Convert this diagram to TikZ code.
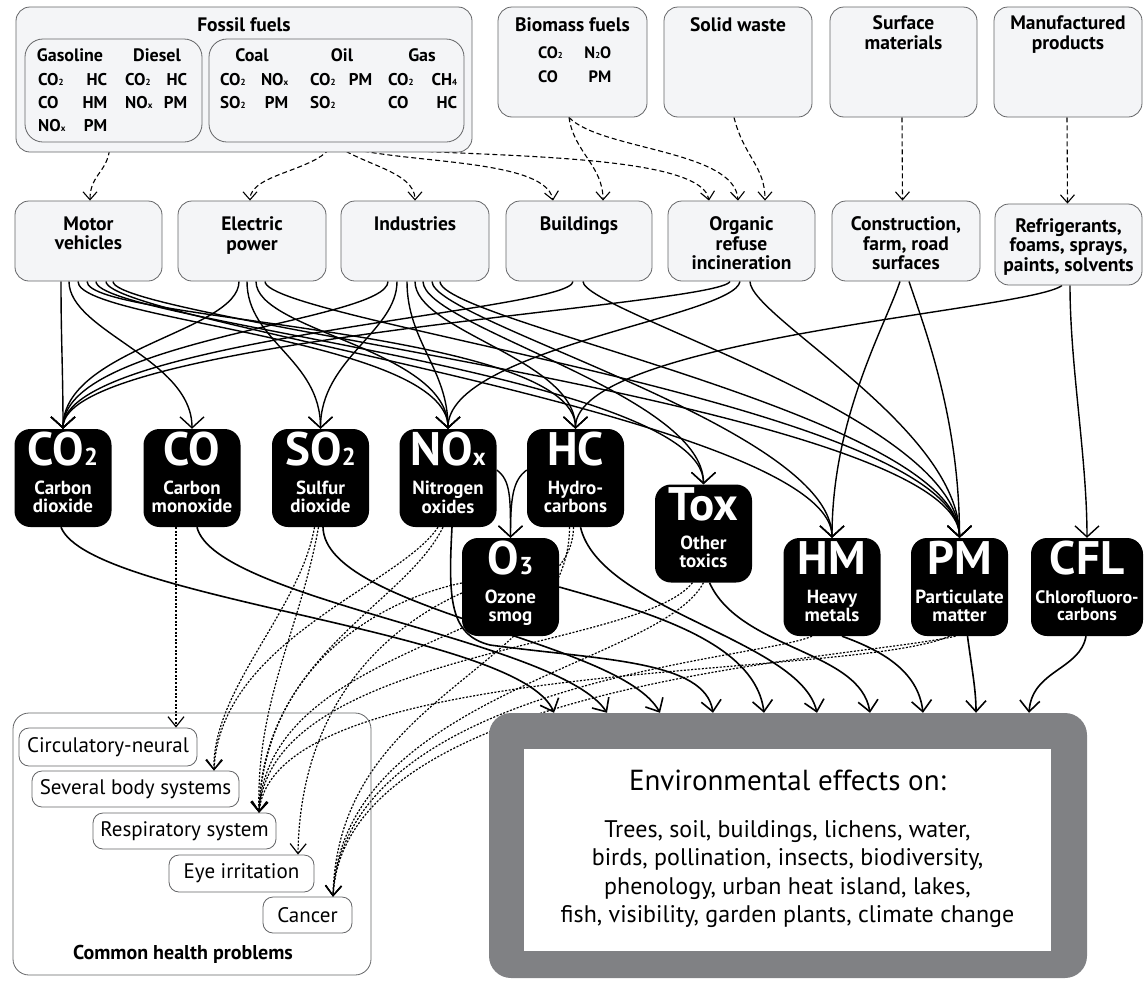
\documentclass[tikz,border=0pt]{standalone}
\usepackage{fontspec}
\usepackage{graphicx}
\setmainfont{PT Sans}
\usetikzlibrary{arrows.meta}
\pgfdeclarelayer{bg}
\pgfsetlayers{bg,main}
\definecolor{boxfill}{HTML}{F4F5F7}
\definecolor{envgray}{HTML}{808184}
\definecolor{edgegray}{HTML}{646567}
\newcommand\lsub[1]{\raisebox{-0.02em}{\scalebox{0.52}{#1}}}
\newcommand\fsz[2]{\fontsize{#1}{#2}\selectfont}
\newcommand\prow[3]{\hbox to #1{#2\hfill #3}}
\tikzset{
 srcbox/.style={draw=edgegray, fill=boxfill, rounded corners=14pt, line width=0.8pt, inner sep=0pt},
 inbox/.style={draw=edgegray, rounded corners=18pt, line width=0.8pt, inner sep=0pt},
 lbl/.style={font=\fsz{19.5}{19.5}\bfseries, align=center, inner sep=0pt},
 fuel/.style={font=\fsz{18}{20}\bfseries, inner sep=0pt, anchor=base},
 gaslist/.style={font=\fsz{17}{23}\bfseries, align=left, inner sep=0pt, anchor=north west},
 polbox/.style={fill=black, rounded corners=16pt, inner sep=0pt, minimum width=97pt, minimum height=98pt},
 bigl/.style={text=white, font=\fsz{47}{47}\bfseries, inner sep=0pt, anchor=base},
 subl/.style={text=white, font=\fsz{19}{17.5}\bfseries, align=center, inner sep=0pt, anchor=north},
 hlbox/.style={draw=edgegray, fill=white, rounded corners=10pt, line width=0.8pt, inner sep=0pt, font=\fsz{21}{21}},
 feedarrow/.style={line width=1.1pt, dash pattern=on 5pt off 3pt, -{Straight Barb[length=8pt,width=14pt]}},
 polarrow/.style={line width=1.4pt, -{Straight Barb[length=11pt,width=24pt]}},
 envarrow/.style={line width=1.6pt, -{Straight Barb[length=11pt,width=20pt]}},
 healtharrow/.style={line width=1.2pt, dash pattern=on 2pt off 1.6pt, -{Straight Barb[length=10pt,width=16pt]}},
}
\begin{document}
\begin{tikzpicture}[x=1pt,y=-1pt]
\useasboundingbox (0,0) rectangle (1144,983);

% ---------- top sources ----------
\node[srcbox, minimum width=456pt, minimum height=145pt] (ff) at (244,79.5) {};
\node[inbox, minimum width=177pt, minimum height=103pt] (ffl) at (113.5,90.5) {};
\node[inbox, minimum width=255pt, minimum height=103pt] (ffr) at (336.5,90.5) {};
\node[lbl, anchor=base] (fftitle) at (244,31) {Fossil fuels};
\node[fuel] (gasoline) at (70,61.5) {Gasoline};
\node[fuel] (diesel) at (157,61.5) {Diesel};
\node[fuel] (coal) at (252,61.5) {Coal};
\node[fuel] (oil) at (342,61.5) {Oil};
\node[fuel] (gas) at (422,61.5) {Gas};
\node[gaslist] (gasolinel) at (38,73) {\prow{69pt}{CO\lsub2}{HC}\\\prow{69pt}{CO}{HM}\\\prow{69pt}{NO\lsub{x}}{PM}};
\node[gaslist] (diesell) at (125,73) {\prow{62pt}{CO\lsub2}{HC}\\\prow{62pt}{NO\lsub{x}}{PM}};
\node[gaslist] (coall) at (220,73) {\prow{68pt}{CO\lsub2}{NO\lsub{x}}\\\prow{68pt}{SO\lsub2}{PM}};
\node[gaslist] (oill) at (310,73) {\prow{62pt}{CO\lsub2}{PM}\\\prow{62pt}{SO\lsub2}{}};
\node[gaslist] (gasl) at (388,73) {\prow{69pt}{CO\lsub2}{CH\lsub4}\\\prow{69pt}{CO}{HC}};

\node[srcbox, minimum width=149pt, minimum height=110pt] (bio) at (572.5,62) {};
\node[lbl, anchor=base] (biot) at (572.5,31) {Biomass fuels};
\node[gaslist, font=\fsz{16.5}{24}\bfseries] (biol) at (538,46.5) {\prow{73pt}{CO\lsub2}{N\lsub2O}\\\prow{73pt}{CO}{PM}};
\node[srcbox, minimum width=148pt, minimum height=110pt] (sol) at (738,62) {};
\node[lbl, anchor=base] (solt) at (738,31) {Solid waste};
\node[srcbox, minimum width=147pt, minimum height=110pt] (sur) at (903.5,62) {};
\node[lbl, anchor=north] (surt) at (903.5,15.5) {Surface\\materials};
\node[srcbox, minimum width=148pt, minimum height=110pt] (man) at (1068,62) {};
\node[lbl, anchor=north] (mant) at (1068,15.5) {Manufactured\\products};

% ---------- middle row ----------
\node[srcbox, minimum width=147pt, minimum height=80pt] (mv) at (88.5,241) {};
\node[lbl, anchor=north] (mvt) at (88.5,216.5) {Motor\\vehicles};
\node[srcbox, minimum width=148pt, minimum height=80pt] (ep) at (252,241) {};
\node[lbl, anchor=north] (ept) at (252,216.5) {Electric\\power};
\node[srcbox, minimum width=148pt, minimum height=80pt] (ind) at (415,241) {};
\node[lbl, anchor=north] (indt) at (415,216.5) {Industries};
\node[srcbox, minimum width=146pt, minimum height=80pt] (bld) at (579,241) {};
\node[lbl, anchor=north] (bldt) at (579,216.5) {Buildings};
\node[srcbox, minimum width=147pt, minimum height=80pt] (org) at (741.5,241) {};
\node[lbl, anchor=north] (orgt) at (741.5,216.5) {Organic\\refuse\\incineration};
\node[srcbox, minimum width=148pt, minimum height=80pt] (con) at (906,241) {};
\node[lbl, anchor=north] (cont) at (906,216.5) {Construction,\\farm, road\\surfaces};
\node[srcbox, minimum width=147pt, minimum height=81pt] (ref) at (1068.5,244.5) {};
\node[lbl, anchor=north] (reft) at (1068.5,218) {Refrigerants,\\foams, sprays,\\paints, solvents};

% ---------- pollutants ----------
\node[polbox] (co2) at (63,478) {};
\node[bigl] (co2t) at (63,465) {CO\lsub2};
\node[subl] (co2s) at (63,481) {Carbon\\dioxide};
\node[polbox] (co) at (192,478) {};
\node[bigl] (cot) at (192,465) {CO};
\node[subl] (cos) at (192,481) {Carbon\\monoxide};
\node[polbox] (so2) at (320.5,478) {};
\node[bigl] (so2t) at (320.5,465) {SO\lsub2};
\node[subl] (so2s) at (320.5,481) {Sulfur\\dioxide};
\node[polbox] (nox) at (448,478) {};
\node[bigl] (noxt) at (448,465) {NO\lsub{x}};
\node[subl] (noxs) at (448,481) {Nitrogen\\oxides};
\node[polbox] (hc) at (575.5,478) {};
\node[bigl] (hct) at (575.5,465) {HC};
\node[subl] (hcs) at (575.5,481) {Hydro-\\carbons};
\node[polbox] (o3) at (510.5,587) {};
\node[bigl] (o3t) at (510.5,574) {O\lsub3};
\node[subl] (o3s) at (510.5,590) {Ozone\\smog};
\node[polbox] (tox) at (703.5,533.5) {};
\node[bigl] (toxt) at (703.5,520) {Tox};
\node[subl] (toxs) at (703.5,536) {Other\\toxics};
\node[polbox] (hm) at (832,587) {};
\node[bigl] (hmt) at (832,574) {HM};
\node[subl] (hms) at (832,590) {Heavy\\metals};
\node[polbox] (pm) at (959.5,587) {};
\node[bigl] (pmt) at (959.5,574) {PM};
\node[subl] (pms) at (959.5,590) {Particulate\\matter};
\node[polbox, minimum width=112pt] (cfl) at (1087,587) {};
\node[bigl] (cflt) at (1087,574) {CFL};
\node[subl, font=\fsz{18}{17.5}\bfseries] (cfls) at (1087,590) {Chlorofluoro-\\carbons};

% ---------- environment ----------
\node[fill=envgray, rounded corners=22pt, minimum width=598pt, minimum height=265pt, inner sep=0pt] (env) at (788,845.5) {};
\node[fill=white, minimum width=527pt, minimum height=202pt, inner sep=0pt] (envin) at (787.5,850) {};
\node[font=\fsz{29}{29}, anchor=base, inner sep=0pt] (envhead) at (787.5,790) {Environmental effects on:};
\node[font=\fsz{24}{28.5}, align=center, anchor=north, inner sep=0pt] (envbody) at (787.5,820) {Trees, soil, buildings, lichens, water,\\birds, pollination, insects, biodiversity,\\phenology, urban heat island, lakes,\\fish, visibility, garden plants, climate change};

% ---------- health ----------
\node[draw=edgegray, rounded corners=16pt, minimum width=358pt, minimum height=262pt, line width=0.8pt, inner sep=0pt] (hp) at (192,844) {};
\node[hlbox, minimum width=178pt, minimum height=38pt] (circ) at (108,747) {Circulatory-neural};
\node[hlbox, minimum width=207pt, minimum height=36pt] (sev) at (135.5,789) {Several body systems};
\node[hlbox, minimum width=183pt, minimum height=36pt] (res) at (184.5,831) {Respiratory system};
\node[hlbox, minimum width=145pt, minimum height=37pt] (eye) at (241.5,873.5) {Eye irritation};
\node[hlbox, minimum width=89pt, minimum height=36pt] (can) at (307.5,915) {Cancer};
\node[font=\fsz{20}{20}\bfseries, inner sep=0pt] (hpt) at (183,954) {Common health problems};

\begin{pgfonlayer}{bg}
% ---------- dashed feeds ----------
\draw[feedarrow] ([xshift=-3.5]ffl.south) .. controls +(0,30) and +(0,-28) .. ([xshift=1.5]mv.north);
\draw[feedarrow] ([xshift=-3.5]ffr.south) .. controls +(-10,28) and +(0,-28) .. ([xshift=-2]ep.north);
\draw[feedarrow] ([xshift=-3.5]ffr.south) .. controls +(25,22) and +(0,-30) .. (ind.north);
\draw[feedarrow] ([xshift=-3.5]ffr.south) .. controls (380,165) and (545,155) .. ([xshift=-26]bld.north);
\draw[feedarrow] ([xshift=-3.5]ffr.south) .. controls (400,160) and (700,145) .. ([xshift=-32.5]org.north);
\draw[feedarrow] ([xshift=-3.5]bio.south) .. controls +(5,35) and +(0,-35) .. ([xshift=24]bld.north);
\draw[feedarrow] ([xshift=-3.5]bio.south) .. controls (600,150) and (735,150) .. ([xshift=-3.5]org.north);
\draw[feedarrow] ([xshift=-4]sol.south) .. controls +(10,40) and +(0,-35) .. ([xshift=23.5]org.north);
\draw[feedarrow] ([xshift=-1.5]sur.south) -- ([xshift=-3.5]con.north);
\draw[feedarrow] ([xshift=-1]man.south) -- ([xshift=-1]ref.north);

% ---------- sources to pollutants ----------
\draw[polarrow] ([xshift=-27.5]mv.south) .. controls +(0,60) and +(0,-60) .. (co2.north);
\draw[polarrow] ([xshift=-19.5]mv.south) .. controls +(0,50) and +(0,-70) .. (co.north);
\draw[polarrow] ([xshift=-10.5]mv.south) .. controls +(0,40) and +(0,-90) .. (nox.north);
\draw[polarrow] ([xshift=-1.5]mv.south) .. controls +(0,40) and +(0,-100) .. (hc.north);
\draw[polarrow] ([xshift=7.5]mv.south) .. controls +(0,40) and +(0,-110) .. (tox.north);
\draw[polarrow] ([xshift=17.5]mv.south) .. controls +(0,40) and +(0,-120) .. (hm.north);
\draw[polarrow] ([xshift=24.5]mv.south) .. controls +(0,40) and +(0,-130) .. (pm.north);
\draw[polarrow] ([xshift=-13]ep.south) .. controls +(0,50) and +(0,-80) .. (co2.north);
\draw[polarrow] ([xshift=-5]ep.south) .. controls +(0,60) and +(0,-70) .. (so2.north);
\draw[polarrow] ([xshift=4]ep.south) .. controls +(0,50) and +(0,-80) .. (nox.north);
\draw[polarrow] ([xshift=13]ep.south) .. controls +(0,40) and +(0,-130) .. (pm.north);
\draw[polarrow] ([xshift=-27]ind.south) .. controls +(0,40) and +(0,-90) .. (co2.north);
\draw[polarrow] ([xshift=-18]ind.south) .. controls +(0,50) and +(0,-70) .. (so2.north);
\draw[polarrow] ([xshift=-8]ind.south) .. controls +(0,60) and +(0,-60) .. (nox.north);
\draw[polarrow] (ind.south) .. controls +(0,50) and +(0,-70) .. (hc.north);
\draw[polarrow] ([xshift=8]ind.south) .. controls +(0,45) and +(0,-90) .. (tox.north);
\draw[polarrow] ([xshift=17]ind.south) .. controls +(0,40) and +(0,-110) .. (hm.north);
\draw[polarrow] ([xshift=25]ind.south) .. controls +(0,40) and +(0,-120) .. (pm.north);
\draw[polarrow] ([xshift=-6]bld.south) .. controls +(0,30) and +(0,-90) .. (co2.north);
\draw[polarrow] ([xshift=4]bld.south) .. controls +(0,30) and +(0,-120) .. (pm.north);
\draw[polarrow] ([xshift=-11.5]org.south) .. controls +(-10,25) and +(0,-90) .. (co2.north);
\draw[polarrow] ([xshift=-1.5]org.south) .. controls +(-5,35) and +(0,-80) .. (nox.north);
\draw[polarrow] ([xshift=8.5]org.south) .. controls +(0,35) and +(0,-110) .. (pm.north);
\draw[polarrow] ([xshift=-6]con.south) .. controls +(-15,45) and +(0,-120) .. (hm.north);
\draw[polarrow] ([xshift=3]con.south) .. controls +(15,45) and +(0,-120) .. (pm.north);
\draw[polarrow] ([xshift=-6.5]ref.south) .. controls +(-30,25) and +(0,-90) .. (hc.north);
\draw[polarrow] ([xshift=1.5]ref.south) .. controls +(0,80) and +(0,-80) .. (cfl.north);
\draw[polarrow] ([yshift=8]nox.east) .. controls +(14,10) and +(0,-40) .. (o3.north);
\draw[polarrow] ([yshift=8]hc.west) .. controls +(-14,10) and +(0,-40) .. (o3.north);

% ---------- pollutants to environment ----------
\draw[envarrow] ([xshift=-2]co2.south) .. controls (90,600) and (520,630) .. ([xshift=-234]env.north);
\draw[envarrow] ([xshift=5]co.south) .. controls (215,600) and (560,640) .. ([xshift=-181]env.north);
\draw[envarrow] ([xshift=2.5]so2.south) .. controls (325,610) and (620,640) .. ([xshift=-128]env.north);
\draw[envarrow] ([xshift=4]nox.south) .. controls (448,600) and (450,635) .. (490,645) .. controls (600,660) and (705,660) .. ([xshift=-75]env.north);
\draw[envarrow] (o3.east) .. controls (640,610) and (755,640) .. ([xshift=-24]env.north);
\draw[envarrow] ([xshift=5]hc.south) .. controls (600,610) and (800,640) .. ([xshift=29]env.north);
\draw[envarrow] ([xshift=6]tox.south) .. controls (740,650) and (860,650) .. ([xshift=82]env.north);
\draw[envarrow] ([xshift=10]hm.south) .. controls (880,650) and (918,670) .. ([xshift=135]env.north);
\draw[envarrow] ([xshift=8]pm.south) .. controls (972,670) and (976,690) .. ([xshift=188]env.north);
\draw[envarrow] ([xshift=-1]cfl.south) .. controls (1080,670) and (1032,670) .. ([xshift=241]env.north);

% ---------- pollutants to health ----------
\draw[healtharrow] ([xshift=-16]co.south) -- ([xshift=68]circ.north);
\draw[healtharrow] ([xshift=-6]so2.south) .. controls (300,610) and (212,690) .. ([xshift=78.5]sev.north);
\draw[healtharrow] ([xshift=-10]nox.south) .. controls (400,585) and (220,640) .. ([xshift=78.5]sev.north);
\draw[healtharrow] ([xshift=-2]so2.south) .. controls (300,630) and (256,700) .. ([xshift=74.5]res.north);
\draw[healtharrow] ([xshift=-5]nox.south) .. controls (405,605) and (262,655) .. ([xshift=74.5]res.north);
\draw[healtharrow] ([yshift=4]o3.west) .. controls (380,600) and (265,665) .. ([xshift=74.5]res.north);
\draw[healtharrow] ([xshift=-2]hc.south) .. controls (573,640) and (268,640) .. ([xshift=74.5]res.north);
\draw[healtharrow] ([xshift=-11]tox.south) .. controls (640,650) and (270,650) .. ([xshift=74.5]res.north);
\draw[healtharrow] ([xshift=-10]pm.south) .. controls (850,680) and (275,655) .. ([xshift=74.5]res.north);
\draw[healtharrow] ([yshift=-6]o3.west) .. controls (380,630) and (300,710) .. ([xshift=56.5]eye.north);
\draw[healtharrow] ([xshift=-6]hc.south) .. controls (569,670) and (338,690) .. ([xshift=25.5]can.north);
\draw[healtharrow] (tox.south) .. controls (660,665) and (342,695) .. ([xshift=25.5]can.north);
\draw[healtharrow] ([xshift=-20]hm.south) .. controls (760,660) and (346,680) .. ([xshift=25.5]can.north);
\draw[healtharrow] ([xshift=-4]pm.south) .. controls (850,660) and (345,680) .. ([xshift=25.5]can.north);
\end{pgfonlayer}
\end{tikzpicture}
\end{document}
